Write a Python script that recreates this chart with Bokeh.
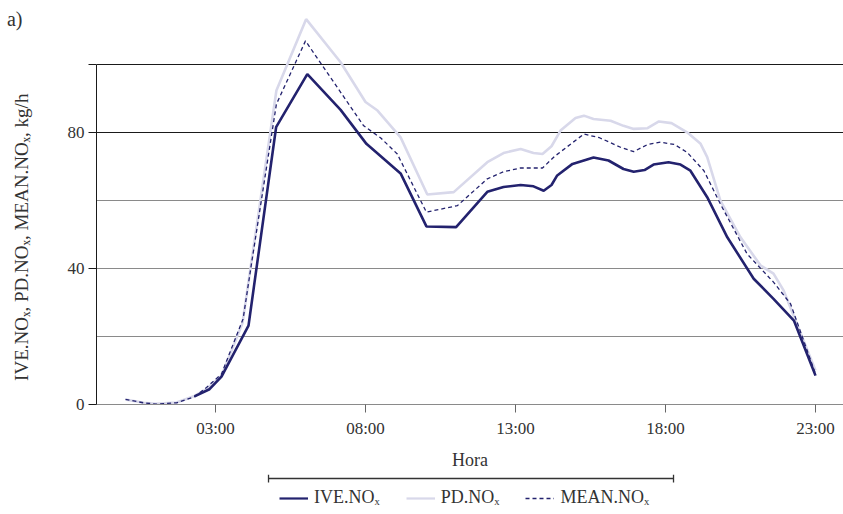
from bokeh.plotting import figure
from bokeh.layouts import column
from bokeh.models import (FixedTicker, Grid, Legend, LegendItem, LinearAxis, Range1d,
                          Arrow, TeeHead)
from bokeh.embed import file_html
from bokeh.resources import INLINE

# ---- data (hour of day, kg/h) ----
ive_hour = [2.3, 2.8, 3.2, 4.1, 5.02, 6.06, 7.17, 8.03, 9.17, 10.03, 11.02, 12.06, 12.6, 13.17,
            13.6, 13.94, 14.2, 14.39, 14.9, 15.6, 16.1, 16.6, 16.94, 17.3, 17.6, 18.1, 18.5,
            18.83, 19.39, 20.06, 20.94, 21.6, 22.28, 23.0]
ive_nox = [2.4, 4.5, 8.2, 23.2, 81.6, 97.2, 86.7, 76.7, 68.0, 52.4, 52.2, 62.6, 64.0, 64.6,
           64.2, 62.9, 64.6, 67.4, 70.8, 72.7, 71.8, 69.3, 68.5, 69.0, 70.6, 71.3, 70.6,
           68.8, 61.0, 49.2, 37.0, 31.1, 24.7, 8.5]

pd_hour = [0.0, 0.6, 1.0, 1.7, 2.3, 2.7, 3.2, 3.9, 5.03, 6.02, 7.17, 8.0, 8.4, 9.17, 10.06,
           10.94, 12.06, 12.6, 13.17, 13.6, 13.9, 14.2, 14.5, 15.0, 15.28, 15.6, 16.17, 16.6,
           16.94, 17.4, 17.78, 18.2, 18.72, 19.17, 19.39, 19.83, 20.5, 21.17, 21.6, 21.94, 23.0]
pd_nox = [1.5, 0.5, 0.2, 0.6, 2.5, 4.5, 8.5, 24.0, 92.4, 113.4, 100.7, 89.0, 86.5, 78.6, 61.8,
          62.5, 71.3, 74.0, 75.2, 74.0, 73.7, 76.0, 80.6, 84.3, 85.0, 84.0, 83.5, 82.0,
          81.1, 81.3, 83.3, 82.8, 80.1, 76.7, 72.8, 60.0, 49.2, 40.9, 38.5, 33.5, 10.0]

mean_hour = [0.0, 0.6, 1.03, 1.7, 2.3, 2.7, 3.2, 3.92, 4.2, 5.03, 6.0, 7.06, 7.94, 8.5, 9.06,
             10.03, 11.06, 12.06, 12.6, 13.17, 13.9, 14.3, 15.28, 15.8, 16.5, 16.94, 17.4,
             17.83, 18.3, 18.72, 19.28, 19.83, 20.72, 21.6, 22.17, 23.0]
mean_nox = [1.5, 0.5, 0.1, 0.5, 2.3, 5.0, 9.0, 25.2, 41.5, 88.4, 107.0, 93.3, 82.0, 78.5, 73.7,
            56.6, 58.5, 66.4, 68.5, 69.6, 69.6, 73.0, 79.6, 78.5, 75.7, 74.4, 76.5,
            77.2, 76.5, 74.2, 68.8, 59.0, 44.3, 36.0, 29.6, 9.0]

x_ticks = [3, 8, 13, 18, 23]
x_tick_labels = ["03:00", "08:00", "13:00", "18:00", "23:00"]
y_ticks = [0, 40, 80, 100]
y_tick_labels = ["0", "40", "80", ""]
series_labels = ["IVE.NOₓ", "PD.NOₓ", "MEAN.NOₓ"]
y_title = "IVE.NOₓ, PD.NOₓ, MEAN.NOₓ, kg/h"
x_title = "Hora"
panel_tag = "a)"

FONT = "Liberation Serif"
NAVY = "#23226e"
LAV = "#d8d8ea"
TXT = "#333333"
NAN = float("nan")

# ---------------- main chart ----------------
p = figure(width=843, height=474, output_backend="svg", toolbar_location=None,
           x_range=Range1d(-0.967, 23.933), y_range=Range1d(0, 118),
           min_border_left=96, min_border_right=0, min_border_top=3, min_border_bottom=70)
p.outline_line_color = None

p.xgrid.visible = False
p.ygrid.ticker = FixedTicker(ticks=[80, 100])
p.ygrid.grid_line_color = "#1a1a1a"
p.add_layout(Grid(dimension=1, ticker=FixedTicker(ticks=[20, 40, 60]),
                  grid_line_color="#8a8a8a"))

p.xaxis.ticker = FixedTicker(ticks=x_ticks)
p.xaxis.major_label_overrides = dict(zip(x_ticks, x_tick_labels))
p.xaxis.axis_line_color = "#8a8a8a"
p.xaxis.major_tick_line_color = "#666666"
p.xaxis.major_tick_in = 0
p.xaxis.major_tick_out = 8
p.xaxis.minor_tick_line_color = None
p.xaxis.axis_label = x_title
p.xaxis.axis_label_text_font = FONT
p.xaxis.axis_label_text_font_style = "normal"
p.xaxis.axis_label_text_font_size = "18px"
p.xaxis.axis_label_text_color = TXT
p.xaxis.axis_label_standoff = 9
p.xaxis.major_label_text_font = FONT
p.xaxis.major_label_text_font_size = "17px"
p.xaxis.major_label_text_color = TXT
p.xaxis.major_label_standoff = 6

p.yaxis.ticker = FixedTicker(ticks=y_ticks)
p.yaxis.major_label_overrides = dict(zip(y_ticks, y_tick_labels))
p.yaxis.bounds = (0, 100)
p.yaxis.axis_line_color = "#1a1a1a"
p.yaxis.major_tick_line_color = "#1a1a1a"
p.yaxis.major_tick_in = 0
p.yaxis.major_tick_out = 8
p.yaxis.minor_tick_line_color = None
p.yaxis.major_label_text_font = FONT
p.yaxis.major_label_text_font_size = "17px"
p.yaxis.major_label_text_color = TXT
p.yaxis.major_label_standoff = 4
# trailing em spaces move the visible title down to the centre of the 0-100 span
p.yaxis.axis_label = y_title + "\u2003\u2003\u2003\u2002"
p.yaxis.axis_label_text_font = FONT
p.yaxis.axis_label_text_font_style = "normal"
p.yaxis.axis_label_text_font_size = "19px"
p.yaxis.axis_label_text_color = TXT
p.yaxis.axis_label_standoff = 33

# panel tag "a)" carried by an invisible secondary left axis
tag_axis = LinearAxis(ticker=FixedTicker(ticks=[113.5]),
                      major_label_overrides={113.5: panel_tag},
                      axis_line_color=None, major_tick_line_color=None,
                      minor_tick_line_color=None, major_tick_out=0, major_tick_in=0,
                      major_label_standoff=-15,
                      major_label_text_font=FONT, major_label_text_font_size="20px",
                      major_label_text_color=TXT)
p.add_layout(tag_axis, "left")

p.line(pd_hour, pd_nox, line_color=LAV, line_width=2.6)
p.line(mean_hour, mean_nox, line_color=NAVY, line_width=1.3, line_dash="4 3")
p.line(ive_hour, ive_nox, line_color=NAVY, line_width=2.6)

# ---------------- legend strip ----------------
q = figure(width=843, height=40, output_backend="svg", toolbar_location=None,
           x_range=p.x_range, y_range=Range1d(0, 40),
           min_border_left=96, min_border_right=0, min_border_top=0, min_border_bottom=0)
q.axis.visible = False
q.grid.visible = False
q.outline_line_color = None

q.add_layout(Arrow(x_start=4.767, y_start=36, x_end=18.267, y_end=36,
                   line_color=TXT, line_width=1.3,
                   start=TeeHead(size=8, line_color=TXT, line_width=1.3),
                   end=TeeHead(size=8, line_color=TXT, line_width=1.3)))

k_ive = q.line([NAN], [NAN], line_color=NAVY, line_width=2.2)
k_pd = q.line([NAN], [NAN], line_color=LAV, line_width=2.2)
k_mean = q.line([NAN], [NAN], line_color=NAVY, line_width=1.3, line_dash="4 3")

legend = Legend(items=[LegendItem(label=series_labels[0], renderers=[k_ive]),
                       LegendItem(label=series_labels[1], renderers=[k_pd]),
                       LegendItem(label=series_labels[2], renderers=[k_mean])],
                orientation="horizontal", location=(183, 6),
                label_text_font=FONT, label_text_font_size="18px", label_text_color=TXT,
                glyph_width=29, glyph_height=14, spacing=26, padding=0, margin=0,
                label_standoff=6, border_line_color=None, background_fill_alpha=0)
q.add_layout(legend, "center")

layout = column(p, q, spacing=0)
open("out.html", "w").write(file_html(layout, INLINE))
